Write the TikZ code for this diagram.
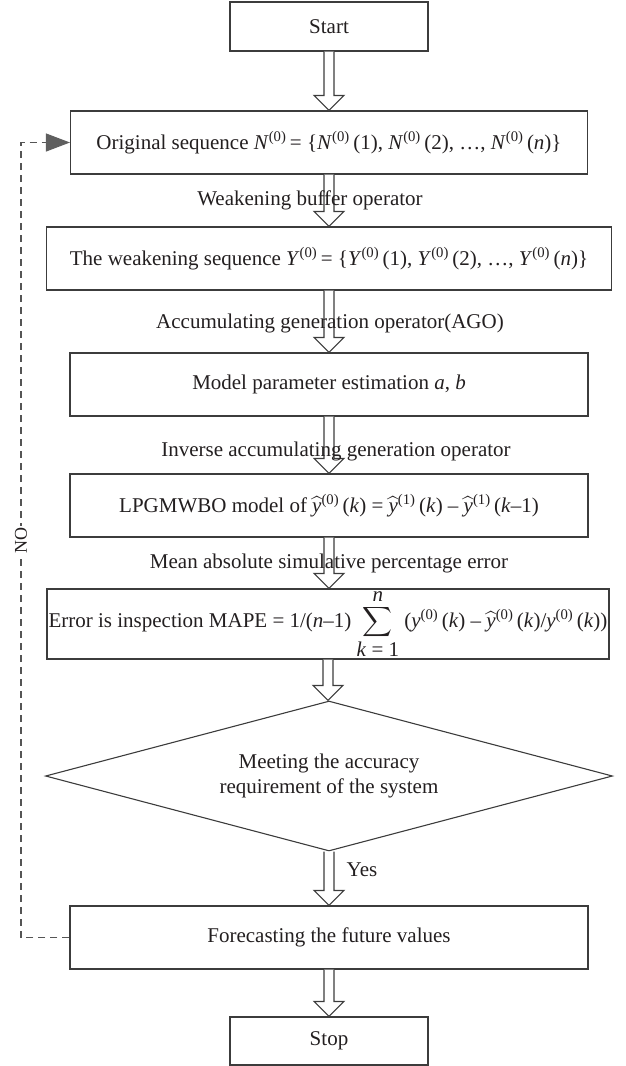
\documentclass[tikz,border=0pt]{standalone}
\usepackage{amsmath}
\usepackage{fontspec}
\setmainfont{Liberation Serif}
\usetikzlibrary{shapes.geometric,arrows.meta,calc}

\definecolor{edgec}{HTML}{3C3C3C}
\definecolor{textc}{HTML}{231F20}
\definecolor{loopc}{HTML}{555555}
\definecolor{tipc}{HTML}{5F5F5F}

% italic letter with a wide hat
\newcommand{\yhat}{$\widehat{\text{\itshape y}}$}
% sequence order superscript
\newcommand{\ord}[1]{\textsuperscript{(#1)}\,}

\tikzset{
  box/.style={draw=edgec, line width=1.1pt, inner sep=0pt, align=center,
    text=textc, font=\fontsize{21}{25}\selectfont},
  decision/.style={box, diamond, aspect=3.78},
  flowlabel/.style={text=textc, inner sep=0pt, font=\fontsize{21}{25}\selectfont},
  hollowarrow/.style={draw=edgec, line width=1.1pt, fill=white, line join=miter},
  loopline/.style={draw=loopc, line width=1.1pt, dash pattern=on 7pt off 5pt},
  looptip/.style={-{Triangle[length=24pt,width=18pt,fill=tipc,color=tipc]}},
  nolabel/.style={text=textc, fill=white, inner sep=1.5pt, rotate=90,
    font=\fontsize{18}{20}\selectfont}
}

% hollow block arrow from the bottom of #1 to the top of #2
\newcommand{\blockarrow}[2]{%
  \draw[hollowarrow] let \p1=(#1.south), \p2=(#2.north) in
    ({\x1-5pt},\y1) -- ({\x1-5pt},{\y2+15pt}) -- ({\x1-15pt},{\y2+15pt})
    -- (\x1,\y2) -- ({\x1+15pt},{\y2+15pt}) -- ({\x1+5pt},{\y2+15pt})
    -- ({\x1+5pt},\y1);}

\begin{document}
\begin{tikzpicture}[x=1pt,y=-1pt]
\useasboundingbox (0,0) rectangle (625,1066);

\node[box, minimum width=198pt, minimum height=49pt] (start) at (329,26.5) {Start};
\node[box, minimum width=517pt, minimum height=63pt] (orig) at (329,142.5)
  {Original sequence \textit{N}\ord{0}= \{\textit{N}\ord{0}(1), \textit{N}\ord{0}(2), …, \textit{N}\ord{0}(\textit{n})\}};
\node[box, minimum width=565pt, minimum height=63pt] (weak) at (329,258.5)
  {The weakening sequence \textit{Y}\ord{0}= \{\textit{Y}\ord{0}(1), \textit{Y}\ord{0}(2), …, \textit{Y}\ord{0}(\textit{n})\}};
\node[box, minimum width=518pt, minimum height=63pt] (model) at (329,384.5)
  {Model parameter estimation \textit{a}, \textit{b}};
\node[box, minimum width=518pt, minimum height=63pt] (lpg) at (329,505.5)
  {LPGMWBO model of \yhat\ord{0}(\textit{k}) = \yhat\ord{1}(\textit{k}) – \yhat\ord{1}(\textit{k}–1)};
\node[box, minimum width=562pt, minimum height=70pt] (err) at (328,624)
  {Error is inspection MAPE = 1/(\textit{n}–1)
   $\displaystyle\sum_{\hbox{\textit{k} = 1}}^{\hbox{\textit{n}}}$
   (\textit{y}\ord{0}(\textit{k}) – \yhat\ord{0}(\textit{k})/\textit{y}\ord{0}(\textit{k}))};
\node[decision, minimum width=567pt, minimum height=150pt] (dec) at (329,776)
  {Meeting the accuracy\\requirement of the system};
\node[box, minimum width=518pt, minimum height=63pt] (fore) at (329,937.5)
  {Forecasting the future values};
\node[box, minimum width=198pt, minimum height=48pt] (stop) at (329,1041) {Stop};

% main flow
\blockarrow{start}{orig}
\blockarrow{orig}{weak}
\blockarrow{weak}{model}
\blockarrow{model}{lpg}
\blockarrow{lpg}{err}
\blockarrow{err}{dec}
\blockarrow{dec}{fore}
\blockarrow{fore}{stop}

% operator labels on the arrows
\node[flowlabel] (lwbo) at (310,200) {Weakening buffer operator};
\node[flowlabel] (lago) at (330,323) {Accumulating generation operator(AGO)};
\node[flowlabel] (liago) at (336,451) {Inverse accumulating generation operator};
\node[flowlabel] (lmape) at (329,563) {Mean absolute simulative percentage error};
\node[flowlabel] (lyes) at (362,870) {Yes};

% feedback loop
\coordinate (lx) at (21,0);
\draw[loopline, looptip] (fore.west) -- (fore.west -| lx)
  -- node[nolabel] (lno) {NO} (orig.west -| lx) -- (orig.west);
\end{tikzpicture}
\end{document}
